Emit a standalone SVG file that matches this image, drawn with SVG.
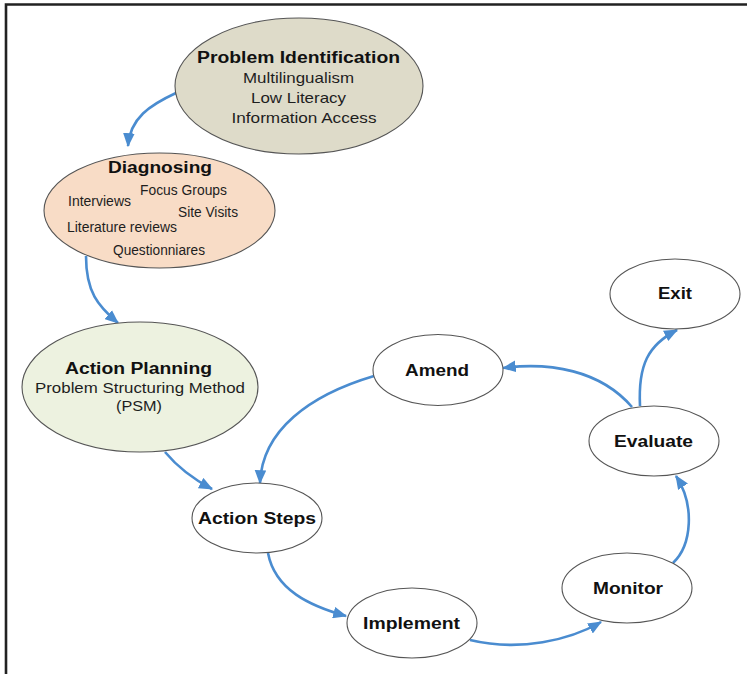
<svg xmlns="http://www.w3.org/2000/svg" width="747" height="674" viewBox="0 0 747 674">
<defs>
<marker id="arr" viewBox="0 0 12 10" refX="11" refY="5" markerWidth="14" markerHeight="12" markerUnits="userSpaceOnUse" orient="auto">
<path d="M0,0 L12,5 L0,10 z" fill="#4a8cd0"/>
</marker>
<style>
.node{stroke:#555;stroke-width:1.1}
.w{fill:#fff}
.t{font-family:"Liberation Sans",Arial,sans-serif;font-weight:bold;font-size:16px;fill:#111;text-anchor:middle}
.s{font-family:"Liberation Sans",Arial,sans-serif;font-size:15px;fill:#1e1e1e;text-anchor:middle}
.d{font-family:"Liberation Sans",Arial,sans-serif;font-size:14px;fill:#1e1e1e;text-anchor:middle}
.c{fill:none;stroke:#4a8cd0;stroke-width:2.6;marker-end:url(#arr)}
</style>
</defs>
<rect width="747" height="674" fill="#fff"/>
<path d="M6,674 V4.5 H747" fill="none" stroke="#222" stroke-width="2.6"/>

<g id="connectors">
<path class="c" d="M176,93 C150,105 130,118 128,146"/>
<path class="c" d="M86,256 C86,292 98,306 118,323"/>
<path class="c" d="M165,452 C180,470 195,480 212,489"/>
<path class="c" d="M374,376 C310,395 262,430 260,483"/>
<path class="c" d="M268,553 C275,590 310,606 346,616"/>
<path class="c" d="M470,640 C520,652 570,640 601,622"/>
<path class="c" d="M673,563 C692,545 695,505 676,476"/>
<path class="c" d="M632,407 C600,370 550,362 503,368"/>
<path class="c" d="M640,406 C638,365 648,345 677,330"/>
</g>

<g id="problem-identification">
<ellipse class="node" cx="299" cy="86" rx="124" ry="68" fill="#dedbc9"/>
<text class="t" x="298.5" y="63" textLength="203" lengthAdjust="spacingAndGlyphs">Problem Identification</text>
<text class="s" x="298.5" y="83" textLength="111" lengthAdjust="spacingAndGlyphs">Multilingualism</text>
<text class="s" x="298.5" y="103" textLength="95" lengthAdjust="spacingAndGlyphs">Low Literacy</text>
<text class="s" x="304" y="123" textLength="145" lengthAdjust="spacingAndGlyphs">Information Access</text>
</g>

<g id="diagnosing">
<ellipse class="node" cx="159.5" cy="210.5" rx="115.5" ry="57.5" fill="#f8dcc6"/>
<text class="t" x="160" y="173" textLength="104" lengthAdjust="spacingAndGlyphs">Diagnosing</text>
<text class="d" x="183.5" y="195" textLength="87" lengthAdjust="spacingAndGlyphs">Focus Groups</text>
<text class="d" x="99.5" y="206" textLength="63" lengthAdjust="spacingAndGlyphs">Interviews</text>
<text class="d" x="208" y="217" textLength="60" lengthAdjust="spacingAndGlyphs">Site Visits</text>
<text class="d" x="122" y="232" textLength="110" lengthAdjust="spacingAndGlyphs">Literature reviews</text>
<text class="d" x="159" y="255" textLength="92" lengthAdjust="spacingAndGlyphs">Questionniares</text>
</g>

<g id="action-planning">
<ellipse class="node" cx="140" cy="387" rx="118" ry="65" fill="#edf2e0"/>
<text class="t" x="138.5" y="374" textLength="147" lengthAdjust="spacingAndGlyphs">Action Planning</text>
<text class="s" x="140" y="393" textLength="210" lengthAdjust="spacingAndGlyphs">Problem Structuring Method</text>
<text class="s" x="139" y="411" textLength="46" lengthAdjust="spacingAndGlyphs">(PSM)</text>
</g>

<g id="action-steps">
<ellipse class="node w" cx="257" cy="518" rx="65" ry="35"/>
<text class="t" x="257" y="524" textLength="118" lengthAdjust="spacingAndGlyphs">Action Steps</text>
</g>

<g id="implement">
<ellipse class="node w" cx="412" cy="623" rx="65" ry="35"/>
<text class="t" x="411.5" y="629" textLength="97" lengthAdjust="spacingAndGlyphs">Implement</text>
</g>

<g id="monitor">
<ellipse class="node w" cx="627" cy="588" rx="65" ry="35"/>
<text class="t" x="628" y="594" textLength="70" lengthAdjust="spacingAndGlyphs">Monitor</text>
</g>

<g id="evaluate">
<ellipse class="node w" cx="654" cy="441" rx="65" ry="35"/>
<text class="t" x="653.5" y="447" textLength="79" lengthAdjust="spacingAndGlyphs">Evaluate</text>
</g>

<g id="amend">
<ellipse class="node w" cx="438" cy="370" rx="65" ry="35.5"/>
<text class="t" x="437" y="376" textLength="64" lengthAdjust="spacingAndGlyphs">Amend</text>
</g>

<g id="exit">
<ellipse class="node w" cx="675" cy="294" rx="65" ry="35"/>
<text class="t" x="675" y="299" textLength="34" lengthAdjust="spacingAndGlyphs">Exit</text>
</g>
</svg>
